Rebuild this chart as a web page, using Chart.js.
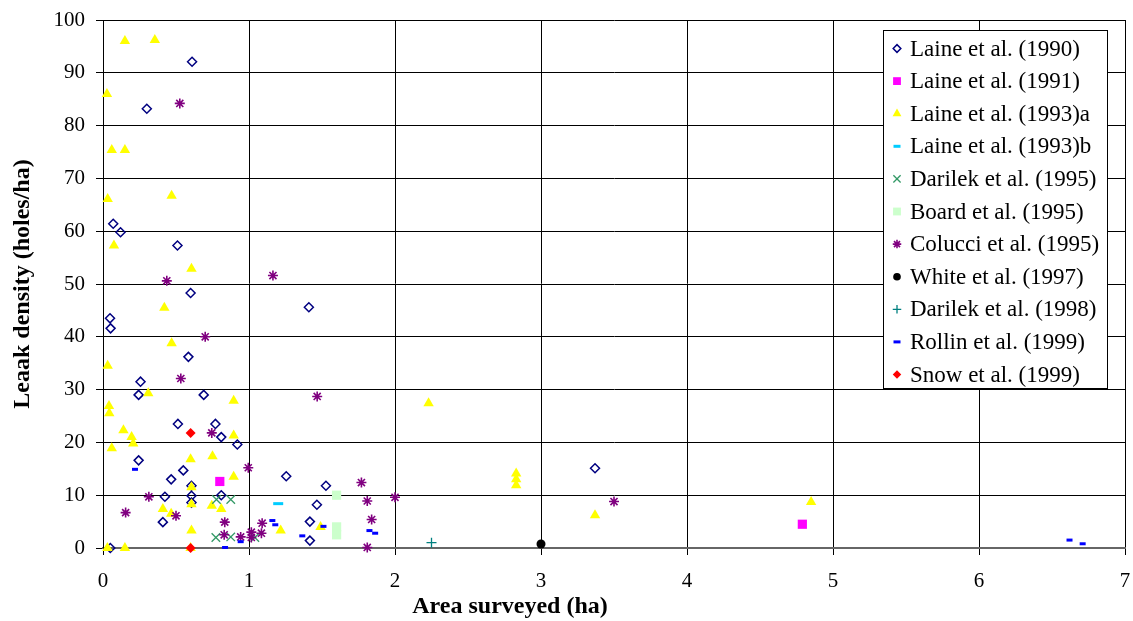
<!DOCTYPE html>
<html>
<head>
<meta charset="utf-8">
<script src="https://cdn.jsdelivr.net/npm/chart.js@4/dist/chart.umd.min.js"></script>
<style>
  body { margin: 0; background: #fff; }
  #wrap { width: 1133px; height: 621px; }
</style>
</head>
<body>
<div id="wrap"><canvas id="myChart" width="1133" height="621"></canvas></div>
<script>
// [area (ha), density (holes/ha)]
const laine1990 = [[0.61,92.1],[0.30,83.2],[0.07,61.4],[0.12,59.8],[0.51,57.3],[0.60,48.3],[1.41,45.6],[0.048,43.5],[0.052,41.6],[0.585,36.2],[0.257,31.5],[0.244,29.0],[0.69,29.0],[0.513,23.5],[0.77,23.5],[0.81,21.0],[0.92,19.6],[0.244,16.6],[0.55,14.7],[1.255,13.6],[0.467,13.0],[0.606,11.8],[0.424,9.7],[0.606,9.9],[0.81,10.0],[0.606,8.6],[0.41,4.9],[1.527,11.8],[1.465,8.2],[1.417,5.0],[1.417,1.4],[3.37,15.1],[0.05,0]]
const laine1991 = [[0.80,12.6],[4.79,4.5]]
const laine1993a = [[0.15,96],[0.355,96.2],[0.027,86],[0.06,75.4],[0.15,75.4],[0.032,66.1],[0.47,66.7],[0.075,57.3],[0.606,52.9],[0.42,45.5],[0.47,38.8],[0.032,34.5],[0.31,29.3],[0.895,27.9],[0.041,26.9],[0.043,25.5],[0.14,22.3],[0.196,21.0],[0.207,19.8],[0.895,21.3],[0.06,18.9],[0.60,16.8],[0.75,17.4],[0.895,13.5],[0.606,11.5],[0.606,8.3],[0.745,8.0],[0.81,7.4],[0.41,7.4],[0.467,6.5],[1.217,3.3],[0.606,3.3],[0.03,0],[0.15,0],[0.60,0],[1.49,4.0],[2.23,27.4],[2.83,14.1],[2.83,13.0],[2.83,11.9],[3.37,6.2],[4.85,8.7]]
const laine1993b = [[1.20,8.4]]
const darilek1995 = [[0.777,9.2],[0.875,9.2],[0.773,2.0],[0.875,2.1],[1.04,2.0]]
const board1995 = [[1.60,10.0],[1.60,4.0],[1.60,2.5]]
const colucci1995 = [[0.526,84.2],[0.437,50.6],[1.164,51.6],[0.70,40.0],[0.533,32.1],[0.745,21.8],[0.995,15.2],[0.314,9.7],[0.155,6.7],[0.50,6.1],[0.834,4.9],[1.09,4.7],[0.83,2.5],[0.943,2.1],[1.016,3.0],[1.016,2.0],[1.085,2.8],[1.467,28.7],[1.77,12.4],[1.81,8.9],[2.0,9.6],[1.84,5.4],[1.81,0.1],[3.50,8.8]]
const white1997 = [[3.0,0.76]]
const darilek1998 = [[2.25,1.0]]
const rollin1999 = [[0.219,14.9],[1.16,5.2],[1.18,4.4],[0.943,1.2],[0.836,0.1],[1.51,4.1],[1.365,2.3],[1.825,3.3],[1.864,2.8],[6.62,1.5],[6.71,0.8]]
const snow1999 = [[0.60,21.8],[0.60,0]]

const xTicks = [0, 1, 2, 3, 4, 5, 6, 7]
const yTicks = [0, 10, 20, 30, 40, 50, 60, 70, 80, 90, 100]
const xTitle = 'Area surveyed (ha)'
const yTitle = 'Leaak density (holes/ha)'

const serif = "'Liberation Serif', 'Times New Roman', serif"

function series(label, pts, style, fill, stroke, radius, bw) {
  return {
    label: label,
    data: pts.map(p => ({ x: p[0], y: p[1] })),
    pointStyle: style,
    pointRadius: radius,
    pointHoverRadius: radius,
    pointBackgroundColor: fill,
    pointBorderColor: stroke,
    pointBorderWidth: bw,
    showLine: false,
    clip: false
  }
}

const datasets = [
  series('Laine et al. (1990)', laine1990, 'rectRot', 'rgba(0,0,0,0)', '#000080', 4.5, 1.5),
  series('Laine et al. (1991)', laine1991, 'rect', '#ff00ff', '#ff00ff', 6.5, 0),
  series('Laine et al. (1993)a', laine1993a, 'triangle', '#ffff00', '#ffff00', 6, 0),
  series('Laine et al. (1993)b', laine1993b, 'line', '#00ccff', '#00ccff', 5, 3),
  series('Darilek et al. (1995)', darilek1995, 'crossRot', '#339966', '#339966', 6, 1.3),
  series('Board et al. (1995)', board1995, 'rect', '#ccffcc', '#ccffcc', 6.5, 0),
  series('Colucci et al. (1995)', colucci1995, 'star', '#800080', '#800080', 5, 1.6),
  series('White et al. (1997)', white1997, 'circle', '#000000', '#000000', 4.5, 0),
  series('Darilek et al. (1998)', darilek1998, 'cross', '#008080', '#008080', 5, 1.3),
  series('Rollin et al. (1999)', rollin1999, 'line', '#0000ff', '#0000ff', 3, 3),
  series('Snow et al. (1999)', snow1999, 'rectRot', '#ff0000', '#ff0000', 5, 0)
]
// later series drawn on top, like the original
datasets.forEach((d, i) => { d.order = datasets.length - i })

const legendBox = {
  id: 'legendBox',
  afterDraw(chart) {
    const ctx = chart.ctx
    const a = chart.chartArea
    const left = a.right - 242, top = a.top + 10, w = 224, h = 358
    ctx.save()
    ctx.fillStyle = '#fff'
    ctx.fillRect(left, top, w, h)
    ctx.strokeStyle = '#000'
    ctx.lineWidth = 1
    ctx.strokeRect(left + 0.5, top + 0.5, w, h)
    ctx.font = '23px ' + serif
    ctx.textBaseline = 'middle'
    chart.data.datasets.forEach((ds, i) => {
      const y = top + 18.5 + i * 32.6
      ctx.fillStyle = ds.pointBackgroundColor
      ctx.strokeStyle = ds.pointBorderColor
      ctx.lineWidth = ds.pointBorderWidth
      Chart.helpers.drawPoint(ctx, {
        pointStyle: ds.pointStyle,
        radius: ds.pointStyle === 'line' ? 3.5 : ds.pointRadius * 0.85,
        borderWidth: ds.pointBorderWidth,
        rotation: 0
      }, left + 14, y)
      ctx.fillStyle = '#000'
      ctx.fillText(ds.label, left + 27, y + 1)
    })

    // axis titles
    ctx.fillStyle = '#000'
    ctx.font = 'bold 24px ' + serif
    ctx.textAlign = 'center'
    ctx.textBaseline = 'middle'
    ctx.fillText(xTitle, 510, 607)
    ctx.translate(23, (a.top + a.bottom) / 2)
    ctx.rotate(-Math.PI / 2)
    ctx.fillText(yTitle, 0, 0)
    ctx.restore()
  }
}

const ctx = document.querySelector('#myChart')
const myChart = new Chart(ctx, {
  type: 'scatter',
  data: { datasets: datasets },
  options: {
    responsive: false,
    animation: false,
    layout: { padding: { top: 20, right: 4, left: 0, bottom: 0 } },
    plugins: { legend: { display: false }, tooltip: { enabled: false } },
    scales: {
      x: {
        type: 'linear',
        min: 0, max: 7,
        afterBuildTicks: s => { s.ticks = xTicks.map(v => ({ value: v })) },
        afterFit: s => { s.height = 73; s.paddingLeft = 0; s.paddingRight = 0 },
        grid: { color: '#000', lineWidth: 1, tickLength: 7, drawTicks: true },
        border: { color: '#666', width: 2 },
        ticks: { color: '#000', font: { family: serif, size: 21 }, padding: 14 }
      },
      y: {
        type: 'linear',
        min: 0, max: 100,
        afterBuildTicks: s => { s.ticks = yTicks.map(v => ({ value: v })) },
        afterFit: s => { s.width = 103; s.paddingTop = 0; s.paddingBottom = 0 },
        grid: { color: '#000', lineWidth: 1, tickLength: 7, drawTicks: true },
        border: { color: '#000', width: 1 },
        ticks: { color: '#000', font: { family: serif, size: 21 }, padding: 11 }
      }
    }
  },
  plugins: [legendBox]
})
</script>
</body>
</html>
